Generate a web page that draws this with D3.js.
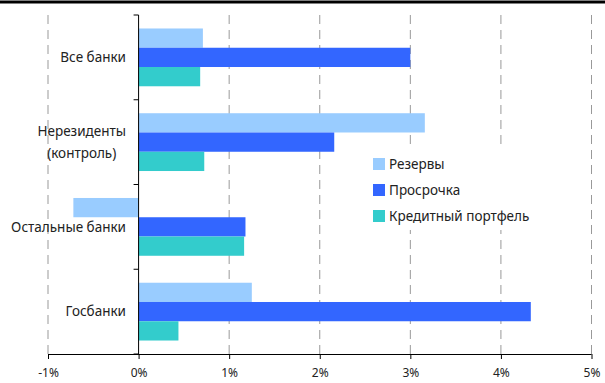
<!DOCTYPE html>
<html>
<head>
<meta charset="utf-8">
<script src="https://cdn.jsdelivr.net/npm/d3@7"></script>
<style>
body { margin: 0; background: #fff; }
text { font-family: "Noto Sans", sans-serif; fill: #222; }
</style>
</head>
<body>
<svg width="605" height="383"></svg>
<script>
var categories = [["Все банки"], ["Нерезиденты", "(контроль)"], ["Остальные банки"], ["Госбанки"]];
var seriesNames = ["Резервы", "Просрочка", "Кредитный портфель"];
var colors = ["#99ccff", "#3366ff", "#33cccc"];
var reserves = [0.71, 3.16, -0.72, 1.25];
var overdue = [3.0, 2.16, 1.18, 4.33];
var portfolio = [0.68, 0.725, 1.165, 0.44];
var xTicks = [-1, 0, 1, 2, 3, 4, 5];

var svg = d3.select("svg");

// top border
svg.append("rect").attr("x", 0).attr("y", 0.5).attr("width", 605).attr("height", 3).attr("fill", "#000");

var x = d3.scaleLinear().domain([-1, 5]).range([48, 591.5]);
var y = d3.scaleBand().domain(d3.range(categories.length)).range([15, 354]).paddingInner(0);
var ySub = d3.scaleBand().domain(d3.range(seriesNames.length)).range([0, y.bandwidth()]).paddingOuter(0.7);

// grid
svg.append("g").selectAll("line").data(xTicks.filter(d => d !== 0)).join("line")
    .attr("x1", d => x(d)).attr("x2", d => x(d))
    .attr("y1", 15).attr("y2", 354)
    .attr("stroke", "#999").attr("stroke-dasharray", "9,6");

var data = [];
categories.forEach(function(c, i) {
    [reserves, overdue, portfolio].forEach(function(s, j) {
        data.push({cat: i, ser: j, value: s[i]});
    });
});

svg.append("g").selectAll("rect").data(data).join("rect")
    .attr("x", d => x(Math.min(0, d.value)))
    .attr("width", d => Math.abs(x(d.value) - x(0)))
    .attr("y", d => y(d.cat) + ySub(d.ser))
    .attr("height", ySub.bandwidth())
    .attr("fill", d => colors[d.ser]);

// y axis
var yAxis = svg.append("g");
yAxis.append("line").attr("x1", x(0)).attr("x2", x(0)).attr("y1", 15).attr("y2", 354).attr("stroke", "#000");
yAxis.selectAll("line.t").data(d3.range(categories.length + 1)).join("line").attr("class", "t")
    .attr("x1", x(0) - 5).attr("x2", x(0))
    .attr("y1", d => 15 + d * y.step()).attr("y2", d => 15 + d * y.step())
    .attr("stroke", "#000");

categories.forEach(function(lines, i) {
    var cy = y(i) + y.bandwidth() / 2;
    var t = svg.append("text").attr("font-size", 13.5).attr("text-anchor", "middle");
    lines.forEach(function(l, k) {
        t.append("tspan").attr("x", 0).attr("y", cy + (k - (lines.length - 1) / 2) * 22).attr("dy", "0.35em").text(l);
    });
    var w = t.node().getBBox().width;
    t.selectAll("tspan").attr("x", 126 - w / 2);
});

// x axis
var xAxis = svg.append("g").attr("transform", "translate(0,354)")
    .call(d3.axisBottom(x).tickValues(xTicks).tickSize(5).tickPadding(9).tickFormat(d => d + "%"));
xAxis.select(".domain").attr("stroke", "#000").attr("d", "M" + x(-1) + ",0.5H" + x(5));
xAxis.selectAll(".tick line").attr("stroke", "#000");
xAxis.selectAll(".tick text").attr("font-size", 12).attr("fill", "#222").style("font-family", "'Noto Sans', sans-serif");

// legend
var legend = svg.append("g");
legend.append("rect").attr("x", 365).attr("y", 147).attr("width", 175).attr("height", 83).attr("fill", "#fff");
seriesNames.forEach(function(n, i) {
    var ly = 164 + i * 26;
    legend.append("rect").attr("x", 373).attr("y", ly - 6).attr("width", 12).attr("height", 12).attr("fill", colors[i]);
    legend.append("text").attr("x", 389).attr("y", ly).attr("dy", "0.35em").attr("font-size", 13.5).text(n);
});
</script>
</body>
</html>
